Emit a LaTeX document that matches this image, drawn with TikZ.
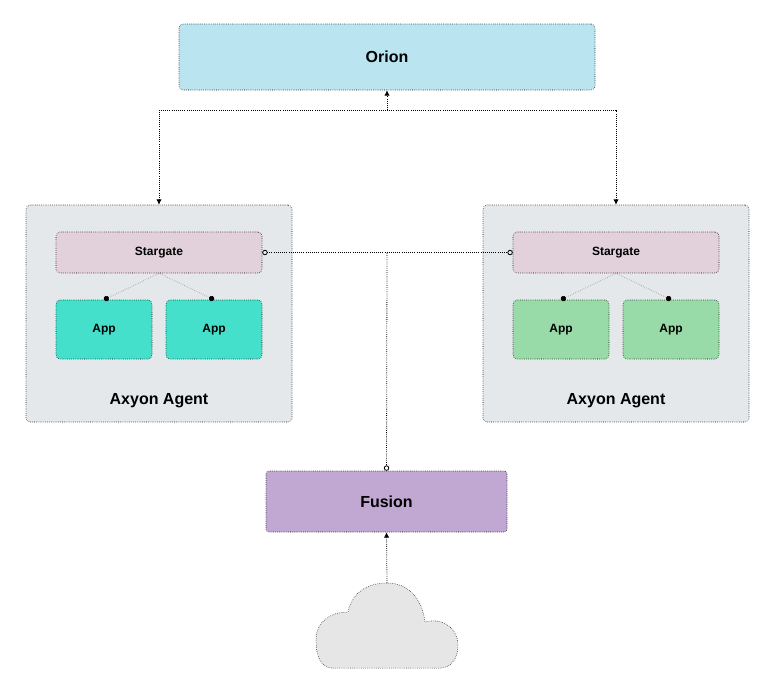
\documentclass[tikz,border=0pt]{standalone}
\usepackage{fontspec}
\setmainfont{Liberation Sans}
\usetikzlibrary{arrows.meta, positioning}
\definecolor{orionblue}{HTML}{B9E4F0}
\definecolor{agentgray}{HTML}{E4E8EA}
\definecolor{gatepink}{HTML}{E2D0DA}
\definecolor{appteal}{HTML}{45E0CB}
\definecolor{appgreen}{HTML}{98DBA9}
\definecolor{fusionpurple}{HTML}{C0A8D2}
\definecolor{cloudgray}{HTML}{E6E6E6}

\begin{document}
\begin{tikzpicture}[
    x=0.75pt, y=-0.75pt,
    box/.style={rectangle, draw, densely dotted, rounded corners=3pt, inner sep=0pt, align=center},
    agent/.style={box, fill=agentgray, minimum width=199.5pt, minimum height=162.75pt},
    gate/.style={box, fill=gatepink, minimum width=154.5pt, minimum height=30.75pt, font=\small\bfseries},
    app/.style={box, minimum width=72pt, minimum height=44.25pt, font=\small\bfseries},
    link/.style={densely dotted, semithick},
    arrow/.style={link, -{Latex[length=4pt, width=4pt]}},
    twoway/.style={link, {Latex[length=4pt, width=4pt]}-{Latex[length=4pt, width=4pt]}},
    plug/.style={link, {Circle[open, length=4pt]}-{Circle[open, length=4pt]}},
    tap/.style={densely dotted, draw=gray, -{Circle[length=4pt, fill=black, color=black]}}
]
\useasboundingbox (0,0) rectangle (780,697);

% Orion
\node[box, fill=orionblue, minimum width=312pt, minimum height=49.5pt, font=\large\bfseries] (orion) at (387,57) {Orion};

% agents
\node[agent] (agentL) at (159,313.5) {};
\node[agent] (agentR) at (616,313.5) {};
\node[font=\large\bfseries] (labelL) at (159,401) {Axyon Agent};
\node[font=\large\bfseries] (labelR) at (616,401) {Axyon Agent};

\node[gate] (gateL) at (159,252.5) {Stargate};
\node[gate] (gateR) at (616,252.5) {Stargate};

\node[app, fill=appteal] (appL1) at (104,329.5) {App};
\node[app, fill=appteal] (appL2) at (214,329.5) {App};
\node[app, fill=appgreen] (appR1) at (561,329.5) {App};
\node[app, fill=appgreen] (appR2) at (671,329.5) {App};

% Fusion and cloud
\node[box, rounded corners=2pt, fill=fusionpurple, minimum width=180.75pt, minimum height=45.75pt, font=\large\bfseries] (fusion) at (386.5,501.5) {Fusion};
\coordinate (cloudtop) at (387,583);
\draw[densely dotted, fill=cloudgray]
  (332,668) .. controls (322,668) and (316,658) .. (316,640)
  .. controls (316,622) and (330,612) .. (348,612)
  .. controls (352,592) and (368,583) .. (cloudtop)
  .. controls (408,583) and (422,598) .. (425,622)
  .. controls (445,617) and (458,630) .. (458,645)
  .. controls (458,660) and (450,668) .. (440,668) -- cycle;

% connectors
\coordinate (bus) at (387,110);
\coordinate (hub) at (387,253);
\draw[arrow] (bus) -- (orion.south);
\draw[twoway] (agentL.north) |- (bus) -| (agentR.north);
\draw[plug] (gateL.east) -- (gateR.west);
\draw[link, -{Circle[open, length=4pt]}] (hub) -- (fusion.north);
\draw[arrow] (cloudtop) -- (fusion.south);

\foreach \g/\a in {gateL/appL1, gateL/appL2, gateR/appR1, gateR/appR2}
  \draw[tap] (\g.south) -- (\a.north);
\end{tikzpicture}
\end{document}
